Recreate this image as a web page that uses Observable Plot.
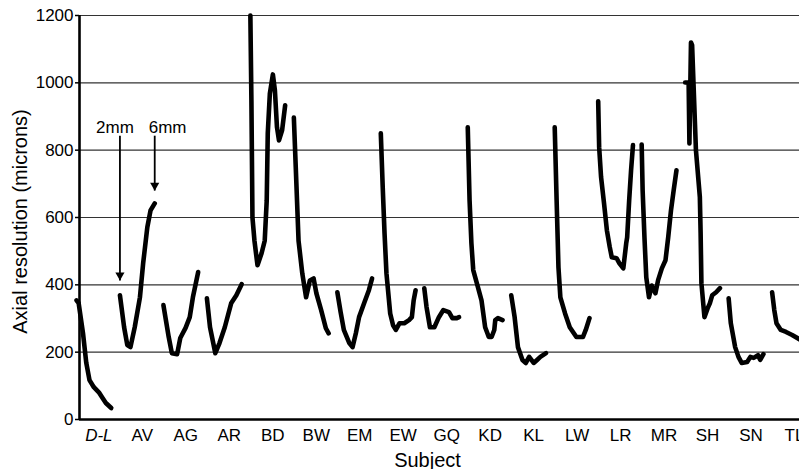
<!DOCTYPE html>
<html>
<head>
<meta charset="utf-8">
<script src="https://cdn.jsdelivr.net/npm/d3@7"></script>
<script src="https://cdn.jsdelivr.net/npm/@observablehq/plot@0.6"></script>
<style>
  html, body { margin: 0; padding: 0; background: #fff; }
  #chart svg { display: block; }
</style>
</head>
<body>
<div id="chart"></div>
<script>
// ---- data (pupil diameter mm, axial resolution in microns) ----
const subjects = ["D-L","AV","AG","AR","BD","BW","EM","EW","GQ","KD","KL","LW","LR","MR","SH","SN","TL"];

const curveDL = [[2.00,354],[2.25,346],[2.75,257],[3.13,168],[3.50,117],[4.00,96],[4.63,79],[5.00,64],[5.38,49],[6.00,34]];
const curveAV = [[2.00,369],[2.48,274],[2.85,221],[3.21,215],[3.70,274],[4.30,363],[4.67,464],[5.15,571],[5.52,621],[6.00,642]];
const curveAG = [[2.00,340],[2.61,245],[2.97,197],[3.58,194],[3.94,242],[4.55,272],[5.03,304],[5.39,363],[6.00,438]];
const curveAR = [[2.00,360],[2.36,274],[2.97,197],[3.45,227],[4.06,274],[4.79,345],[5.39,369],[6.00,402]];
const curveBD = [[2.00,1200],[2.12,948],[2.24,600],[2.47,531],[2.82,458],[3.29,494],[3.65,531],[3.88,650],[4.00,850],[4.24,968],[4.59,1025],[4.82,978],[5.06,868],[5.29,829],[5.65,859],[6.00,933]];
const curveBW = [[2.00,897],[2.22,749],[2.54,531],[2.97,434],[3.41,363],[3.84,413],[4.27,419],[4.59,375],[5.14,325],[5.68,271],[6.00,256]];
const curveEM = [[2.00,378],[2.38,319],[2.75,266],[3.38,227],[3.75,215],[4.13,256],[4.50,304],[5.13,349],[5.63,384],[6.00,419]];
const curveEW = [[2.00,850],[2.22,690],[2.43,553],[2.65,434],[3.08,315],[3.41,280],[3.73,266],[4.16,286],[4.70,286],[5.24,295],[5.57,304],[5.78,354],[6.00,384]];
const curveGQ = [[2.00,390],[2.26,334],[2.65,274],[3.16,274],[3.68,304],[4.19,325],[4.84,319],[5.23,301],[5.74,301],[6.00,304]];
const curveKD = [[2.00,868],[2.21,650],[2.42,523],[2.63,444],[3.16,394],[3.58,354],[4.00,274],[4.42,245],[4.74,245],[5.05,266],[5.16,295],[5.47,301],[6.00,295]];
const curveKL = [[2.00,369],[2.39,304],[2.77,215],[3.29,177],[3.68,168],[4.06,186],[4.58,168],[4.97,177],[5.35,186],[6.00,197]];
const curveLW = [[2.00,868],[2.22,650],[2.43,452],[2.65,363],[3.19,315],[3.73,274],[4.49,245],[5.24,245],[5.57,266],[6.00,301]];
const curveLR = [[2.00,945],[2.11,809],[2.33,720],[2.67,642],[3.00,562],[3.33,512],[3.56,482],[4.11,479],[4.44,464],[4.89,449],[5.22,523],[5.33,541],[5.56,650],[5.78,740],[6.00,815]];
const curveMR = [[2.00,817],[2.11,681],[2.32,541],[2.53,422],[2.84,363],[3.16,398],[3.58,375],[3.89,414],[4.32,449],[4.74,473],[5.05,541],[5.37,621],[5.68,681],[6.00,740]];
const curveSH = [[2.00,1001],[2.40,1001],[2.49,820],[2.67,1120],[2.80,1112],[3.24,800],[3.69,661],[3.78,552],[3.87,405],[4.22,304],[4.58,330],[4.84,345],[5.11,369],[5.56,378],[6.00,390]];
const curveSN = [[2.00,360],[2.25,286],[2.75,215],[3.13,186],[3.50,168],[4.13,171],[4.50,186],[4.88,183],[5.38,191],[5.63,177],[6.00,194]];
const curveTL = [[2.00,378],[2.25,325],[2.50,286],[3.00,266],[3.60,260],[4.30,251],[5.30,236]];

const yTicks = [0, 200, 400, 600, 800, 1000, 1200];
const gridValues = [200, 400, 600, 800, 1000, 1200];

// annotation arrows on subject AV (2mm and 6mm pupil)
const arrowSubject = "AV";
const arrows2mm = [{label: "2mm", mm: 2, tail: 843, tip: 413, text: 852}];
const arrows6mm = [{label: "6mm", mm: 6, tail: 843, tip: 680, text: 852}];

// ---- build table ----
const curves = [curveDL, curveAV, curveAG, curveAR, curveBD, curveBW, curveEM, curveEW, curveGQ,
                curveKD, curveKL, curveLW, curveLR, curveMR, curveSH, curveSN, curveTL];
const rows = curves.flatMap((c, i) => c.map(([mm, res]) => ({subject: subjects[i], i, mm, res})));

const mmUnit = 0.2; // fraction of a subject slot per mm of pupil diameter
const xpos = (i, mm) => i + (mm - 4) * mmUnit;
const xDomain = [-0.33, 16.23];
const ai = subjects.indexOf(arrowSubject);
const arrows = [...arrows2mm, ...arrows6mm];

const chart = Plot.plot({
  width: 799,
  height: 469,
  marginLeft: 79,
  marginRight: 0,
  marginTop: 15,
  marginBottom: 50,
  style: {
    fontFamily: "'Liberation Sans', Arial, Helvetica, sans-serif",
    fontSize: "17px",
    color: "black",
    background: "white"
  },
  x: {domain: xDomain, axis: null},
  y: {domain: [0, 1200]},
  marks: [
    Plot.ruleY(gridValues, {stroke: "#333", strokeWidth: 1.2}),
    Plot.line(rows, {
      x: d => xpos(d.i, d.mm), y: "res", z: "subject",
      stroke: "black", strokeWidth: 4.6, strokeLinejoin: "round", strokeLinecap: "round", curve: "linear"
    }),
    // annotation arrows
    Plot.link(arrows, {
      x1: d => xpos(ai, d.mm), x2: d => xpos(ai, d.mm), y1: "tail", y2: "tip",
      stroke: "black", strokeWidth: 1.8
    }),
    Plot.dot(arrows, {
      x: d => xpos(ai, d.mm), y: "tip", symbol: "triangle", rotate: 180, r: 3.4,
      fill: "black", stroke: "none", dy: -5.2
    }),
    Plot.text(arrows2mm, {
      x: d => xpos(ai, d.mm), y: "text", text: "label", textAnchor: "middle", lineAnchor: "bottom",
      dx: -5, fontSize: 17
    }),
    Plot.text(arrows6mm, {
      x: d => xpos(ai, d.mm), y: "text", text: "label", textAnchor: "start", lineAnchor: "bottom",
      dx: -6, fontSize: 17
    }),
    // axes
    Plot.ruleY([0], {stroke: "black", strokeWidth: 2.6}),
    Plot.ruleX([xDomain[0]], {stroke: "black", strokeWidth: 2.6}),
    Plot.axisY({ticks: yTicks, tickFormat: d => String(d), tickSize: 4, tickPadding: 2, fontSize: 17, label: null, strokeWidth: 1.5}),
    Plot.text(subjects.slice(0, 1), {
      x: (d, k) => k, frameAnchor: "bottom", lineAnchor: "top", textAnchor: "middle",
      dy: 9, dx: 5, fontSize: 17, fontStyle: "italic"
    }),
    Plot.text(subjects.slice(1), {
      x: (d, k) => k + 1, frameAnchor: "bottom", lineAnchor: "top", textAnchor: "middle",
      dy: 9, dx: 5, fontSize: 17
    }),
    Plot.text(["Subject"], {
      frameAnchor: "bottom", lineAnchor: "bottom", textAnchor: "middle",
      dx: -12, dy: 47, fontSize: 20
    }),
    Plot.text(["Axial resolution (microns)"], {
      frameAnchor: "left", lineAnchor: "middle", textAnchor: "middle", rotate: -90,
      dx: -59, dy: 4, fontSize: 20
    })
  ]
});

document.getElementById("chart").appendChild(chart);
</script>
</body>
</html>
